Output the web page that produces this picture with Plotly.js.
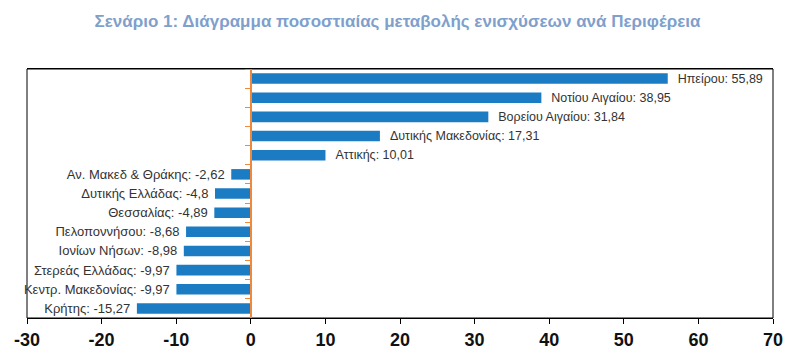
<!DOCTYPE html>
<html><head><meta charset="utf-8">
<script src="https://cdn.plot.ly/plotly-3.0.1.min.js"></script>
<style>html,body{margin:0;padding:0;background:#fff}#c{width:795px;height:351px}</style>
</head><body><div id="c"></div>
<script>
const regions = ["Ηπείρου","Νοτίου Αιγαίου","Βορείου Αιγαίου","Δυτικής Μακεδονίας","Αττικής","Αν. Μακεδ & Θράκης","Δυτικής Ελλάδας","Θεσσαλίας","Πελοποννήσου","Ιονίων Νήσων","Στερεάς Ελλάδας","Κεντρ. Μακεδονίας","Κρήτης"];
const changes = [55.89, 38.95, 31.84, 17.31, 10.01, -2.62, -4.8, -4.89, -8.68, -8.98, -9.97, -9.97, -15.27];
const xTicks = [-30,-20,-10,0,10,20,30,40,50,60,70];
const titleText = "Σενάριο 1: Διάγραμμα ποσοστιαίας μεταβολής ενισχύσεων ανά Περιφέρεια";

const labels = regions.map((r,i)=>{
  const t = r + ": " + String(changes[i]).replace(".", ",");
  return changes[i] >= 0 ? "\u00a0\u00a0" + t : t + "\u00a0";
});
const labelSizes = changes.map(v => v >= 0 ? 12.5 : 13);

const trace = {
  type: "bar", orientation: "h",
  x: changes, y: regions,
  text: labels, textposition: "outside", cliponaxis: false, constraintext: "none",
  textfont: {family: "Liberation Sans, Arial, sans-serif", size: labelSizes, color: "#333"},
  marker: {color: "#1b7cc3"},
  hoverinfo: "none"
};

const layout = {
  width: 795, height: 351,
  margin: {l: 26.5, r: 22, t: 69, b: 33},
  paper_bgcolor: "#fff", plot_bgcolor: "#fff",
  showlegend: false,
  bargap: 0.45,
  title: {text: titleText, x: 0.5, xanchor: "center", y: 0.94, yanchor: "middle",
    font: {family: "Liberation Sans Narrow, Arial Narrow, sans-serif", size: 17, color: "#7f9fcc", weight: "bold"}},
  xaxis: {range: [-30, 70], tickvals: xTicks, ticktext: xTicks.map(String),
    showgrid: false, zeroline: false, showline: true, linecolor: "#000", linewidth: 1, mirror: true,
    ticks: "outside", ticklen: 5, tickcolor: "#000",
    tickfont: {family: "Liberation Sans Narrow, Arial Narrow, sans-serif", size: 18, color: "#111", weight: "bold"}},
  yaxis: {autorange: "reversed", anchor: "free", position: 0.3,
    showline: true, linecolor: "#f0883a", linewidth: 2,
    ticks: "outside", tickson: "boundaries", ticklen: 5, tickcolor: "#f0883a", tickwidth: 1,
    showticklabels: false, showgrid: false, zeroline: false},
  shapes: [{type: "rect", xref: "paper", yref: "paper", x0: 0, x1: 1, y0: 0, y1: 1,
    line: {color: "#000", width: 1}, layer: "below"}]
};

Plotly.newPlot("c", [trace], layout, {staticPlot: true});
</script></body></html>
